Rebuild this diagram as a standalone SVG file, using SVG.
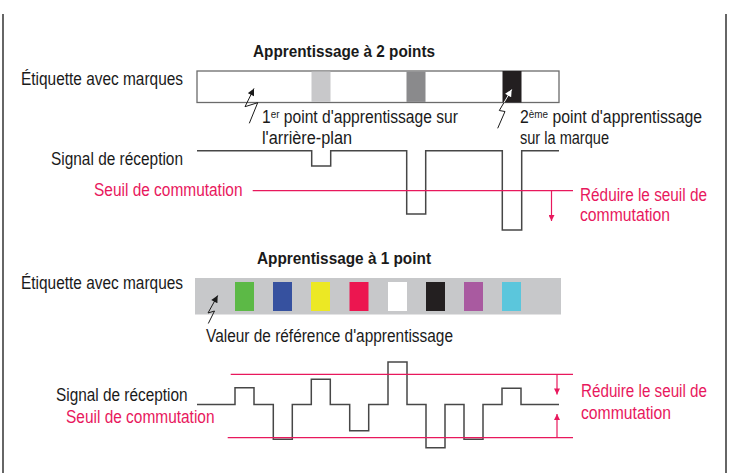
<svg xmlns="http://www.w3.org/2000/svg" width="735" height="473" viewBox="0 0 735 473">
<style>
text{font-family:"Liberation Sans Narrow","Liberation Sans",Arial,sans-serif;font-size:17.5px;fill:#1a1a1a}
.b{font-weight:bold;font-size:17px}
.r{fill:#e8185d}
.sig{fill:none;stroke:#474747;stroke-width:1.5}
.red{fill:none;stroke:#e8185d;stroke-width:1.2}
.frame{stroke:#333;stroke-width:1.5}
.lt{fill:none;stroke:#1a1a1a;stroke-width:1}
</style>
<defs>
<marker id="ah" viewBox="0 0 10 10" refX="10" refY="5" markerWidth="9" markerHeight="7" markerUnits="userSpaceOnUse" orient="auto"><path d="M0,0L10,5L0,10z" fill="#1a1a1a"/></marker>
<marker id="ahw" viewBox="0 0 10 10" refX="10" refY="5" markerWidth="9" markerHeight="7" markerUnits="userSpaceOnUse" orient="auto"><path d="M0,0L10,5L0,10z" fill="#fff"/></marker>
<marker id="ar" viewBox="0 0 10 10" refX="10" refY="5" markerWidth="7" markerHeight="6" markerUnits="userSpaceOnUse" orient="auto"><path d="M0,0L10,5L0,10z" fill="#e8185d"/></marker>
<clipPath id="cb"><rect x="502.5" y="71" width="19" height="31.5"/></clipPath>
</defs>
<g id="frame">
<line class="frame" x1="3" y1="14" x2="3" y2="473"/>
<line class="frame" x1="726" y1="14" x2="726" y2="473"/>
</g>
<g id="title1"><text class="b" x="253" y="57" textLength="182" lengthAdjust="spacingAndGlyphs">Apprentissage à 2 points</text></g>
<g id="label1"><text x="21" y="85" textLength="162" lengthAdjust="spacingAndGlyphs">Étiquette avec marques</text></g>
<g id="strip1">
<rect x="197" y="71" width="362" height="31.5" fill="#fff" stroke="#6b6b6b" stroke-width="1.3"/>
<rect x="311.5" y="71.6" width="19" height="30.3" fill="#c8c8ca"/>
<rect x="406.5" y="71.6" width="19" height="30.3" fill="#8a8a8c"/>
<rect x="502.5" y="71" width="19" height="31.5" fill="#231f20"/>
</g>
<g id="teach1">
<text x="262" y="122.5" textLength="196" lengthAdjust="spacingAndGlyphs">1<tspan font-size="11" dy="-5">er</tspan><tspan dy="5"> point d'apprentissage sur</tspan></text>
<text x="262" y="144" textLength="90" lengthAdjust="spacingAndGlyphs">l'arrière-plan</text>
</g>
<g id="teach2">
<text x="520" y="122.5" textLength="182" lengthAdjust="spacingAndGlyphs">2<tspan font-size="11" dy="-5">ème</tspan><tspan dy="5"> point d'apprentissage</tspan></text>
<text x="520" y="144" textLength="89" lengthAdjust="spacingAndGlyphs">sur la marque</text>
</g>
<g id="signal1">
<text x="51" y="165" textLength="132" lengthAdjust="spacingAndGlyphs">Signal de réception</text>
<path class="sig" d="M197,150.7H311.7V166H330.7V150.7H406.7V214H425.7V150.7H502.3V230H521.7V150.7H559"/>
</g>
<g id="threshold1">
<text class="r" x="94" y="196" textLength="148.5" lengthAdjust="spacingAndGlyphs">Seuil de commutation</text>
<text class="r" x="580" y="201" textLength="127" lengthAdjust="spacingAndGlyphs">Réduire le seuil de</text>
<text class="r" x="580" y="221" textLength="90" lengthAdjust="spacingAndGlyphs">commutation</text>
</g>
<g id="title2"><text class="b" x="257" y="264" textLength="174" lengthAdjust="spacingAndGlyphs">Apprentissage à 1 point</text></g>
<g id="label2"><text x="21" y="288.5" textLength="162" lengthAdjust="spacingAndGlyphs">Étiquette avec marques</text></g>
<g id="strip2">
<rect x="195" y="278" width="366" height="36.5" fill="#c7c8ca"/>
<rect x="235" y="282" width="19" height="29" fill="#5cb946"/>
<rect x="273" y="282" width="19" height="29" fill="#36519f"/>
<rect x="311" y="282" width="19" height="29" fill="#ece824"/>
<rect x="349.5" y="282" width="19" height="29" fill="#ec1650"/>
<rect x="388" y="282" width="19" height="29" fill="#ffffff"/>
<rect x="426" y="282" width="19" height="29" fill="#231f20"/>
<rect x="464" y="282" width="19" height="29" fill="#a95aa0"/>
<rect x="502" y="282" width="19" height="29" fill="#5bc6dc"/>
</g>
<g id="ref"><text x="206" y="341.5" textLength="247" lengthAdjust="spacingAndGlyphs">Valeur de référence d'apprentissage</text></g>
<g id="signal2">
<text x="56" y="400.5" textLength="131.5" lengthAdjust="spacingAndGlyphs">Signal de réception</text>
<path class="sig" d="M197,404.5H235V387.7H254V404.5H273.3V439.3H292.3V404.5H311.3V379.3H330.3V404.5H349.7V430.7H368.7V404.5H388V362H407V404.5H426V447.7H445V404.5H464V439.3H483V404.5H502V388.3H521V404.5H559"/>
</g>
<g id="threshold2">
<text class="r" x="66" y="423" textLength="148.5" lengthAdjust="spacingAndGlyphs">Seuil de commutation</text>
<text class="r" x="581" y="397" textLength="126" lengthAdjust="spacingAndGlyphs">Réduire le seuil de</text>
<text class="r" x="581" y="418.5" textLength="90" lengthAdjust="spacingAndGlyphs">commutation</text>
</g>
<g id="connectors">
<path class="lt" d="M249.3,123.3L257.7,102.7L245,106.7L254,88.5" marker-end="url(#ah)"/>
<path class="lt" d="M497.7,128.3L505,111.5L499.3,110.5L511.7,89.5" marker-end="url(#ah)"/>
<path d="M499.3,110.5L511.7,89.5" fill="none" stroke="#fff" stroke-width="1" marker-end="url(#ahw)" clip-path="url(#cb)"/>
<path class="lt" d="M208.3,323.5L214.5,311L208,313L217.7,295.5" marker-end="url(#ah)"/>
<line class="red" x1="252.7" y1="190.7" x2="573" y2="190.7"/>
<line class="red" x1="551.5" y1="190.7" x2="551.5" y2="221" marker-end="url(#ar)"/>
<line class="red" x1="230.7" y1="374.3" x2="573" y2="374.3"/>
<line class="red" x1="227.7" y1="437.7" x2="573" y2="437.7"/>
<line class="red" x1="557" y1="374.3" x2="557" y2="394.5" marker-end="url(#ar)"/>
<line class="red" x1="557" y1="437.7" x2="557" y2="414" marker-end="url(#ar)"/>
</g>
</svg>
